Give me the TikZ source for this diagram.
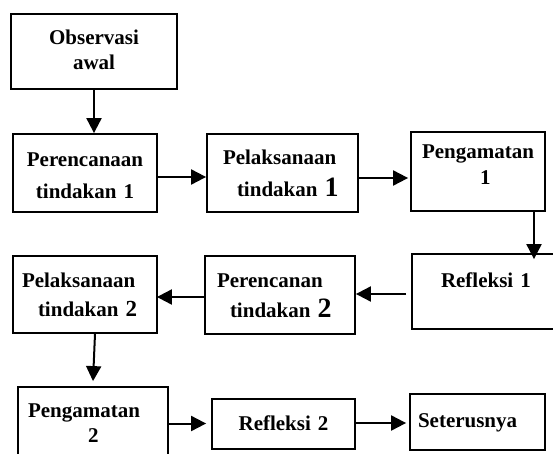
\documentclass[tikz,border=0pt]{standalone}
\usepackage{fontspec}
\setmainfont{Liberation Serif}
\usetikzlibrary{arrows.meta,calc}
\newcommand\fsz[1]{\fontsize{21}{#1}\selectfont\bfseries}
\newcommand\bigd[1]{{\fontsize{28}{32}\selectfont #1}}
\begin{document}
\begin{tikzpicture}[x=1pt,y=-1pt,
  box/.style={draw, line width=1.8pt, inner sep=0pt, text height=14pt},
  arr/.style={line width=2pt, -{Triangle[length=15pt,width=15pt]}}]
\useasboundingbox (0,0) rectangle (553,454);
\clip (0,0) rectangle (553,454);
% boxes
\node[box, text width=166pt, minimum height=75pt, text depth=27pt, align=center, font=\fsz{25}] (obs) at (94,51.5) {Observasi\\awal};
\node[box, text width=144pt, minimum height=78pt, text depth=26pt, align=center, font=\fsz{32}] (per1) at (85,173) {Perencanaan\\tindakan 1};
\node[box, text width=151pt, minimum height=78pt, text depth=30pt, align=left, font=\fsz{32}] (pel1) at (282.5,173) {\hspace*{16pt}Pelaksanaan\\\hspace*{30pt}tindakan \bigd{1}};
\node[box, text width=134pt, minimum height=79pt, text depth=39pt, align=left, font=\fsz{26}] (pen1) at (478,171.5) {\hspace*{11pt}Pengamatan\\\hspace*{69pt}1};
\node[box, text width=170pt, minimum height=75pt, text depth=23pt, align=left, font=\fsz{25}] (ref1) at (497,291.5) {\hspace*{29pt}Refleksi 1};
\node[box, text width=150pt, minimum height=78pt, text depth=30pt, align=left, font=\fsz{30}] (per2) at (280,295) {\hspace*{12pt}Perencanan\\\hspace*{25pt}tindakan \bigd{2}};
\node[box, text width=144pt, minimum height=77pt, text depth=29pt, align=left, font=\fsz{29}] (pel2) at (85,294.5) {\hspace*{9pt}Pelaksanaan\\\hspace*{25pt}tindakan {\fontsize{23}{29}\selectfont 2}};
\node[box, text width=150pt, minimum height=76pt, text depth=30pt, align=left, font=\fsz{25}] (pen2) at (93,425) {\hspace*{10pt}Pengamatan\\\hspace*{70pt}2};
\node[box, text width=143pt, minimum height=50pt, text depth=2pt, align=center, font=\fsz{25}] (ref2) at (283.5,424) {Refleksi 2};
\node[box, text width=135pt, minimum height=56pt, text depth=4pt, align=left, font=\fsz{25}] (set) at (477.5,422) {\hspace*{8pt}Seterusnya};
% connectors
\draw[arr] (obs.south) -- (obs.south |- per1.north);
\draw[arr] ($(per1.east)+(0,4)$) -- ($(per1.east -| pel1.west)+(0,4)$);
\draw[arr] ($(pel1.east)+(0,5)$) -- ($(pel1.east -| pen1.west)+(-2,5)$);
\coordinate (c4) at ($(pen1.south)+(56,0)$);
\draw[arr] (c4) -- ($(c4 |- ref1.north)+(0,6)$);
\draw[arr] ($(ref1.west)+(-5,2.5)$) -- ($(ref1.west -| per2.east)+(0,2.5)$);
\draw[arr] ($(per2.west)+(0,2)$) -- ($(per2.west -| pel2.east)+(-1,2)$);
\draw[arr] ($(pel2.south)+(10,0)$) -- ($(pen2.north)+(0,-5)$);
\draw[arr] ($(pen2.east)+(0,-1.5)$) -- ($(pen2.east -| ref2.west)+(-5,-1.5)$);
\draw[arr] ($(ref2.east)+(0,-1)$) -- ($(ref2.east -| set.west)+(-3,-1)$);
\end{tikzpicture}
\end{document}
